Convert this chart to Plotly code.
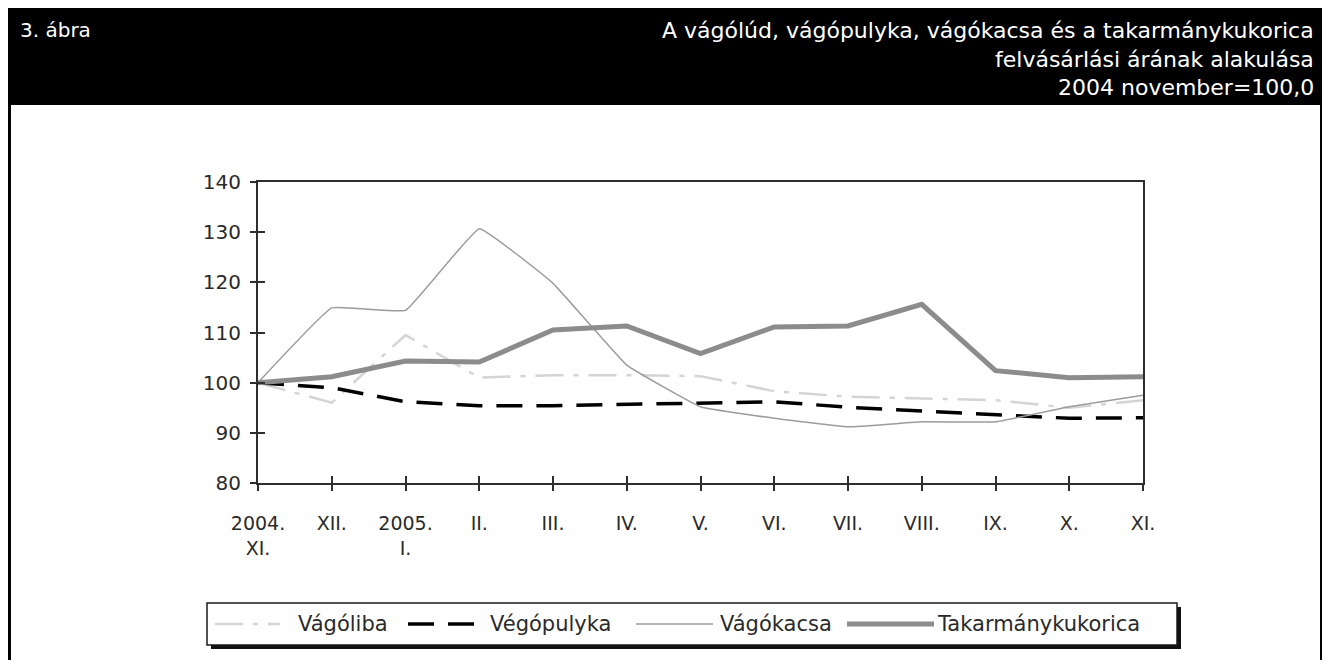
import plotly.graph_objects as go

# havi adatok, 2004 november = 100,0
honapok = ["2004.<br>XI.", "XII.", "2005.<br>I.", "II.", "III.", "IV.", "V.",
           "VI.", "VII.", "VIII.", "IX.", "X.", "XI."]
vagoliba = [100, 96, 109.5, 101, 101.5, 101.5, 101.3, 98.3, 97.2, 96.8, 96.5, 95, 96.5]
vagopulyka = [100, 99, 96.2, 95.4, 95.4, 95.7, 96, 96.2, 95.1, 94.4, 93.6, 92.9, 93]
vagokacsa = [100, 114.9, 114.4, 130.7, 119.8, 103.5, 95.2, 92.9, 91.2, 92.2, 92.2, 95.2, 97.5]
kukorica = [100, 101.2, 104.3, 104.1, 110.5, 111.3, 105.8, 111.1, 111.3, 115.6, 102.4, 101.0, 101.2]
nevek = ["Vágóliba", "Végópulyka", "Vágókacsa", "Takarmánykukorica"]
y_tick = [80, 90, 100, 110, 120, 130, 140]

cim_bal = "3. ábra"
cim_jobb = ["A vágólúd, vágópulyka, vágókacsa és a takarmánykukorica",
            "felvásárlási árának alakulása",
            "2004 november=100,0"]

OFF = 8  # a bongeszo body margoja
W, H = 1330 - OFF, 668 - 2 * OFF
L, R, T, B = 258 - OFF, 1143 - OFF, 182 - OFF, 483 - OFF
FONT = "DejaVu Sans"


def px(x):
    return (x - OFF - L) / (R - L)


def py(y):
    return (B - (y - OFF)) / (B - T)


stilus = [
    dict(color="#d4d4d4", width=2.5, dash="28px,10px,5px,10px"),
    dict(color="#000000", width=3.5, dash="26px,14px"),
    dict(color="#9c9c9c", width=1.5),
    dict(color="#8c8c8c", width=5),
]

fig = go.Figure()
for nev, adat, st in zip(nevek, [vagoliba, vagopulyka, vagokacsa, kukorica], stilus):
    spline = nev == "Vágókacsa"
    fig.add_trace(go.Scatter(x=honapok, y=adat, name=nev, mode="lines",
                             line=dict(st, shape="spline" if spline else "linear",
                                       smoothing=0.25 if spline else None),
                             showlegend=False))

# ures trace a masodik (befele mutato osztasu) tengelyekhez
fig.add_trace(go.Scatter(x=[0], y=[None], xaxis="x2", yaxis="y2",
                         showlegend=False, hoverinfo="skip"))

tengely = dict(showgrid=False, zeroline=False, showline=True, linecolor="#2e2e2e",
               linewidth=2, ticks="outside", ticklen=6, tickwidth=2, tickcolor="#2e2e2e",
               mirror=True, tickfont=dict(family=FONT, size=19, color="#2a2a2a"))

fig.update_layout(
    width=W, height=H,
    margin=dict(l=L, r=W - R, t=T, b=H - B, pad=0),
    paper_bgcolor="white", plot_bgcolor="white",
    xaxis=dict(tengely, type="category", categoryarray=honapok,
               categoryorder="array", range=[0, len(honapok) - 1],
               ticklabelstandoff=16),
    yaxis=dict(tengely, range=[80, 140], tickvals=y_tick, ticklabelstandoff=5,
               tickfont=dict(family=FONT, size=20, color="#2a2a2a")),
    xaxis2=dict(overlaying="x", anchor="y2", range=[0, len(honapok) - 1],
                tickvals=list(range(len(honapok))), ticks="inside", ticklen=7,
                tickwidth=2, tickcolor="#2e2e2e", showticklabels=False,
                showline=False, showgrid=False, zeroline=False),
    yaxis2=dict(overlaying="y", anchor="x2", range=[80, 140], tickvals=y_tick,
                ticks="inside", ticklen=7, tickwidth=2, tickcolor="#2e2e2e",
                showticklabels=False, showline=False, showgrid=False, zeroline=False),
    showlegend=False,
)

shapes = [
    # fejlec es keret
    dict(type="rect", xref="paper", yref="paper", x0=px(8), x1=px(1323), y0=py(8), y1=py(105),
         fillcolor="black", line=dict(width=0), layer="below"),
    dict(type="line", xref="paper", yref="paper", x0=px(9.5), x1=px(9.5), y0=py(8), y1=py(668),
         line=dict(color="black", width=3)),
    dict(type="line", xref="paper", yref="paper", x0=px(1321.5), x1=px(1321.5), y0=py(8), y1=py(668),
         line=dict(color="black", width=3)),
    # jelmagyarazat arnyek + keret
    dict(type="rect", xref="paper", yref="paper", x0=px(211), x1=px(1181), y0=py(607), y1=py(649),
         fillcolor="#111", line=dict(width=0)),
    dict(type="rect", xref="paper", yref="paper", x0=px(207), x1=px(1177), y0=py(603), y1=py(645),
         fillcolor="white", line=dict(color="#1a1a1a", width=1.5)),
]

annotations = [
    dict(text=cim_bal, xref="paper", yref="paper", x=px(18), y=py(30), xanchor="left",
         yanchor="middle", showarrow=False, font=dict(family=FONT, size=20, color="white")),
]
for i, sor in enumerate(cim_jobb):
    annotations.append(dict(text=sor, xref="paper", yref="paper", x=px(1316), y=py(30 + 29 * i),
                            xanchor="right", yanchor="middle", showarrow=False,
                            font=dict(family=FONT, size=22, color="white")))

# jelmagyarazat elemei
jel_x = [(215, 280, 296), (408, 485, 488), (636, 713, 718), (847, 934, 935)]
ly = 624
for nev, st, (x0, x1, tx) in zip(nevek, stilus, jel_x):
    shapes.append(dict(type="line", xref="paper", yref="paper", x0=px(x0), x1=px(x1),
                       y0=py(ly), y1=py(ly), line=st))
    annotations.append(dict(text=nev, xref="paper", yref="paper", x=px(tx), y=py(ly),
                            xanchor="left", yanchor="middle", showarrow=False,
                            font=dict(family=FONT, size=21, color="#2a2a2a")))

fig.update_layout(shapes=shapes, annotations=annotations)
fig.write_html("out.html")
